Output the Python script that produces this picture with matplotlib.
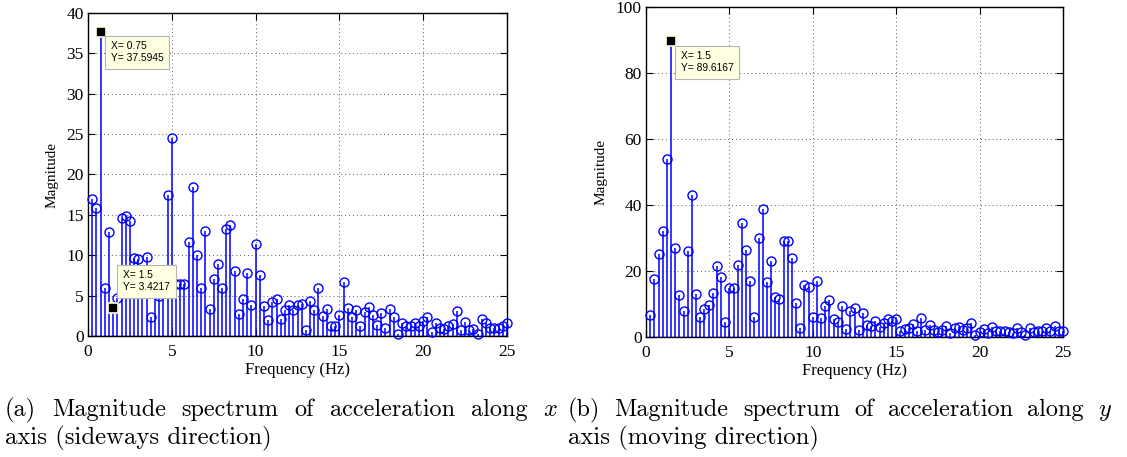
import numpy as np
import matplotlib
matplotlib.use('Agg')
import matplotlib.pyplot as plt

plt.rcParams['font.family'] = ['Liberation Serif', 'DejaVu Serif']
plt.rcParams['mathtext.fontset'] = 'cm'

# frequency bins (0.25 Hz resolution)
freq = np.arange(1, 101) * 0.25

# magnitude spectrum, x axis (sideways)
mag_x = [17.0, 15.8, 37.5945, 5.9, 12.9, 3.4217, 4.7, 14.6, 14.9, 14.3,
         9.6, 9.5, 8.1, 9.8, 2.4, 6.0, 5.0, 6.5, 17.5, 24.5,
         6.4, 6.4, 6.5, 11.7, 18.5, 10.0, 5.9, 13.0, 3.4, 7.1,
         8.9, 5.9, 13.3, 13.8, 8.0, 2.7, 4.6, 7.8, 3.8, 11.4,
         7.6, 3.7, 2.0, 4.2, 4.6, 2.1, 3.2, 3.9, 3.2, 3.8,
         4.0, 0.7, 4.3, 3.2, 5.9, 2.5, 3.4, 1.2, 1.2, 2.6,
         6.7, 3.5, 2.3, 3.2, 1.3, 3.0, 3.6, 2.6, 1.4, 2.8,
         1.0, 3.3, 2.4, 0.3, 1.6, 1.3, 1.3, 1.65, 1.2, 1.8,
         2.3, 0.5, 1.6, 1.0, 0.9, 1.2, 1.5, 3.1, 0.7, 1.7,
         0.7, 0.9, 0.3, 2.1, 1.6, 0.95, 0.95, 0.95, 1.2, 1.6]

# magnitude spectrum, y axis (moving)
mag_y = [6.6, 17.5, 25.2, 32.0, 54.0, 89.6167, 26.9, 12.6, 8.0, 26.0,
         43.1, 13.0, 6.0, 8.5, 9.7, 13.2, 21.5, 18.1, 4.6, 14.9,
         14.7, 21.9, 34.4, 26.4, 17.0, 6.2, 29.9, 38.7, 16.7, 23.1,
         12.2, 11.5, 29.1, 29.1, 24.0, 10.4, 2.6, 15.7, 15.1, 6.2,
         17.0, 5.7, 9.4, 11.3, 5.5, 4.4, 9.4, 2.3, 8.0, 8.9,
         2.1, 7.2, 3.6, 3.3, 4.9, 3.1, 4.3, 5.5, 4.8, 5.5,
         1.8, 2.3, 2.6, 3.8, 1.9, 5.7, 2.1, 3.6, 2.1, 1.5,
         2.1, 3.3, 1.1, 2.6, 2.9, 2.1, 2.6, 4.1, 0.6, 1.5,
         2.3, 1.3, 2.9, 1.9, 1.9, 1.9, 1.5, 1.3, 2.8, 1.5,
         0.6, 2.8, 1.5, 1.9, 1.9, 2.8, 1.9, 3.4, 1.9, 1.7]

xticks = [0, 5, 10, 15, 20, 25]
yticks_x = [0, 5, 10, 15, 20, 25, 30, 35, 40]
yticks_y = [0, 20, 40, 60, 80, 100]

# data tips: (x, y, offset x px, offset y px, vertical align)
tips_x = [(0.75, 37.5945, 10, -9, 'top'), (1.5, 3.4217, 10, 16, 'bottom')]
tips_y = [(1.5, 89.6167, 10, -10, 'top')]

W, H = 1127, 457
fig = plt.figure(figsize=(W / 100, H / 100), dpi=100)
ax1 = fig.add_axes([88 / W, 121 / H, 419 / W, 323 / H])
ax2 = fig.add_axes([646 / W, 120 / H, 417 / W, 330 / H])


def panel(ax, mag, yticks, tips):
    ml, sl, bl = ax.stem(freq, mag, linefmt='-', markerfmt='o', basefmt='-')
    plt.setp(sl, color='blue', linewidth=1.1)
    plt.setp(ml, color='blue', markerfacecolor='none', markersize=6.5,
             markeredgewidth=1.0, clip_on=False, zorder=3)
    plt.setp(bl, color='blue', linewidth=1.0)
    ax.set_xlim(0, 25)
    ax.set_ylim(0, yticks[-1])
    ax.set_xticks(xticks)
    ax.set_yticks(yticks)
    ax.set_axisbelow(True)
    ax.grid(True, linestyle=(0, (1, 3)), color='0.35', linewidth=0.7)
    ax.tick_params(direction='in', top=True, right=True, length=5,
                   width=0.8, labelsize=12.5)
    ax.tick_params(axis='x', pad=6)
    ax.tick_params(axis='y', pad=3)
    for s in ax.spines.values():
        s.set_linewidth(1.0)
    ax.set_xlabel('Frequency (Hz)', fontsize=12, labelpad=1)
    ax.set_ylabel('Magnitude', fontsize=11, labelpad=6)
    for x, y, dx, dy, va in tips:
        ax.plot([x], [y], 's', color='black', markersize=6.5,
                markeredgecolor='#ffffd8', markeredgewidth=1.2,
                zorder=6, clip_on=False)
        ax.annotate(f'X= {x:g}\nY= {y:g}', xy=(x, y), xytext=(dx, dy),
                    textcoords='offset pixels', ha='left', va=va,
                    fontsize=7.4, family='Liberation Sans', linespacing=1.25,
                    bbox=dict(boxstyle='square,pad=0.55', fc='#ffffe1',
                              ec='#b4b4b4', lw=0.8), zorder=7)


panel(ax1, mag_x, yticks_x, tips_x)
panel(ax2, mag_y, yticks_y, tips_y)

renderer = fig.canvas.get_renderer()


def justified(words, x0, x1, base):
    texts = [fig.text(0, 1 - base / H, w, fontsize=17.5, family='cmr10',
                      va='baseline', ha='left') for w in words]
    widths = [t.get_window_extent(renderer).width for t in texts]
    gap = (x1 - x0 - sum(widths)) / (len(words) - 1)
    pos = x0
    for t, w in zip(texts, widths):
        t.set_x(pos / W)
        pos += w + gap


justified(['(a)', 'Magnitude', 'spectrum', 'of', 'acceleration', 'along', '$x$'], 5, 558, 416)
fig.text(5 / W, 1 - 444 / H, 'axis (sideways direction)', fontsize=17.8,
         family='cmr10', va='baseline', ha='left')
justified(['(b)', 'Magnitude', 'spectrum', 'of', 'acceleration', 'along', '$y$'], 568, 1112, 416)
fig.text(568 / W, 1 - 444 / H, 'axis (moving direction)', fontsize=17.8,
         family='cmr10', va='baseline', ha='left')

fig.savefig('out.png', dpi=100)
